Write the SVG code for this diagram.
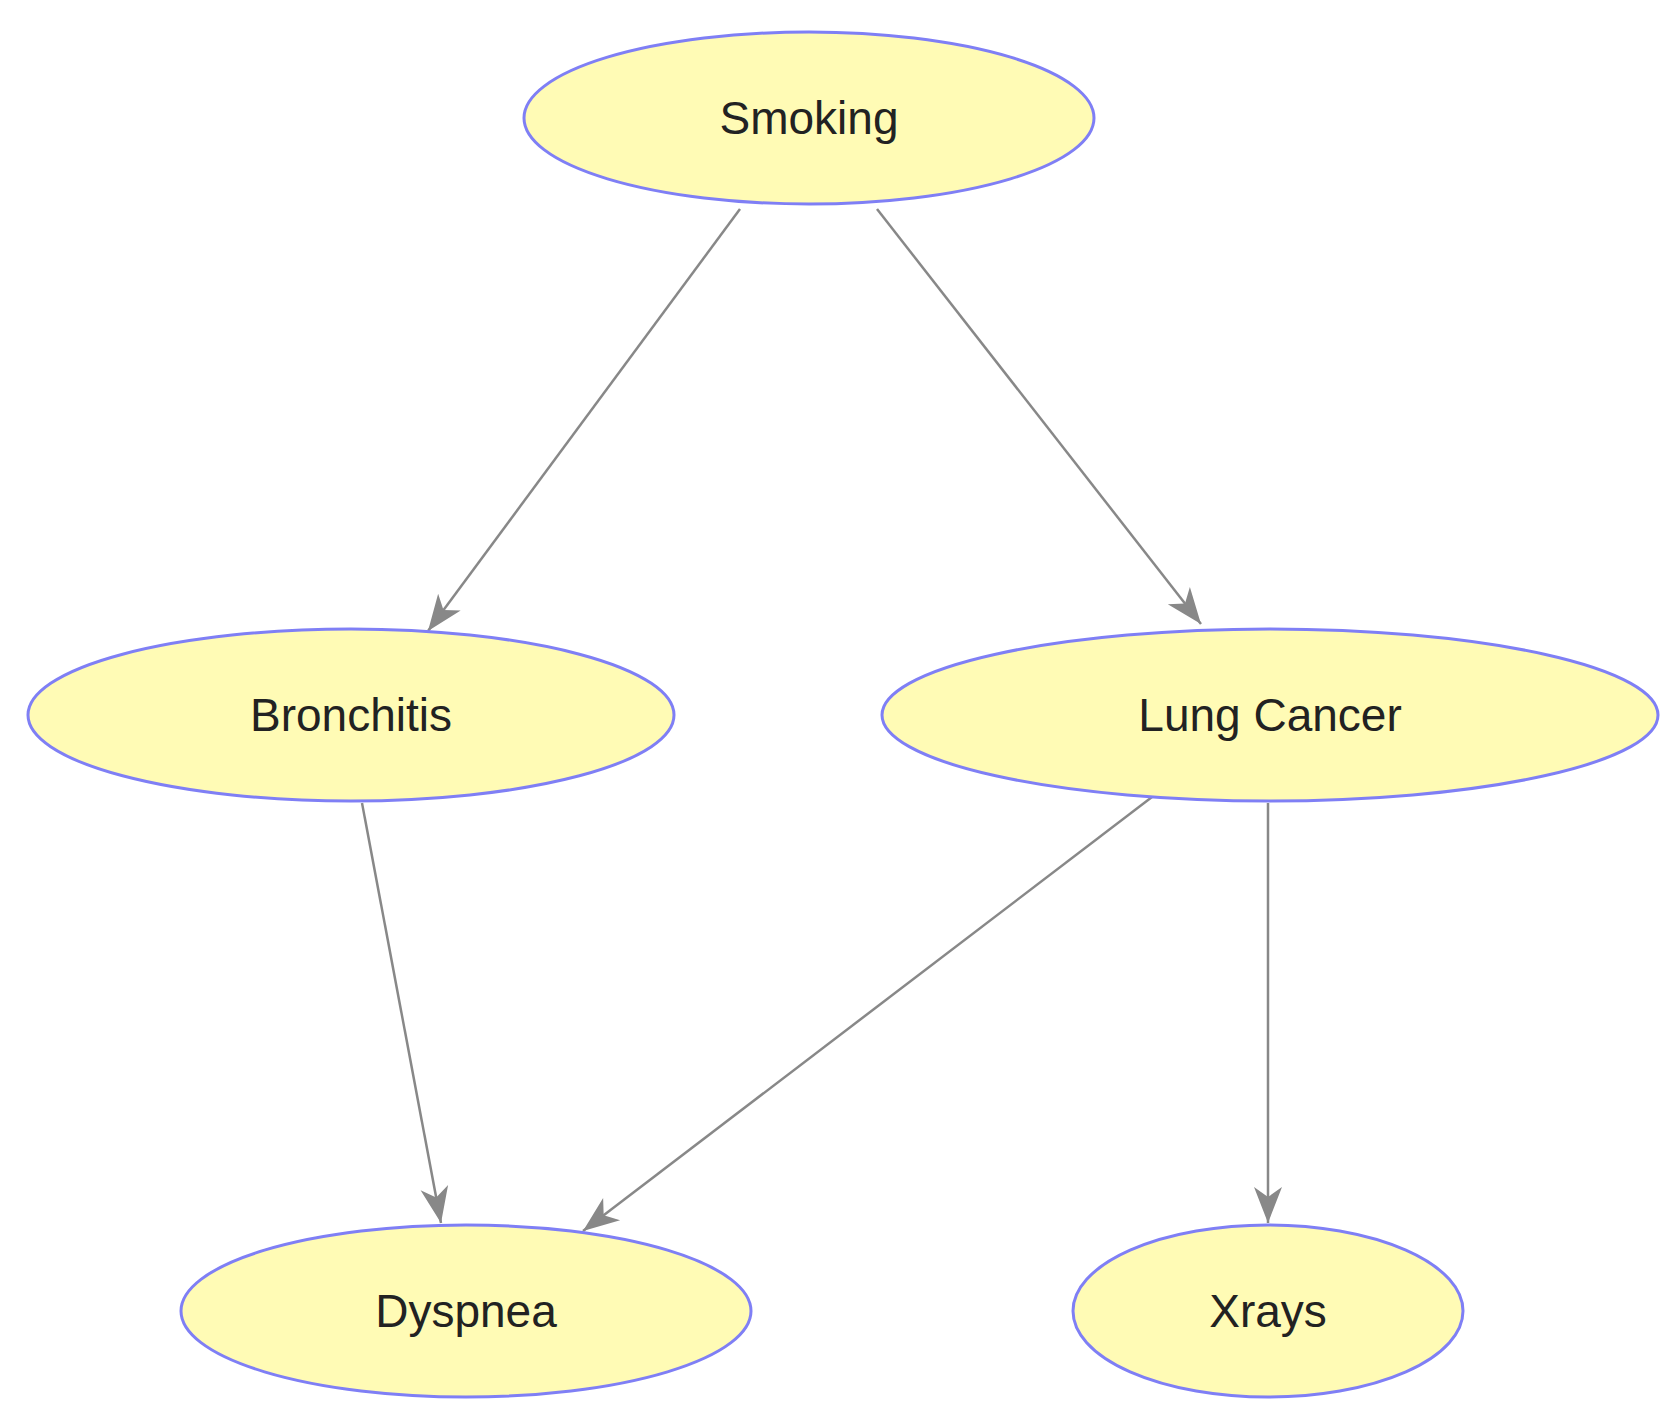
<svg xmlns="http://www.w3.org/2000/svg" width="1669" height="1420" viewBox="0 0 1669 1420">
<style>
.n{fill:#fffbb5;stroke:#7f7ff5;stroke-width:3}
.t{font-family:"Liberation Sans",Arial,sans-serif;font-size:46px;fill:#222;text-anchor:middle;dominant-baseline:central}
.e{stroke:#888;stroke-width:2.5;fill:none;marker-end:url(#a)}
</style>
<defs><marker id="a" markerUnits="userSpaceOnUse" markerWidth="40" markerHeight="40" viewBox="-40 -20 40 40" refX="0" refY="0" orient="auto"><path d="M0,0 L-36,-14 L-26,0 L-36,14 Z" fill="#888"/></marker></defs>
<rect width="1669" height="1420" fill="#fff"/>
<g id="edges">
<line class="e" x1="740" y1="209" x2="428" y2="631"/>
<line class="e" x1="877" y1="209" x2="1201" y2="624"/>
<line class="e" x1="362" y1="803" x2="441" y2="1223"/>
<line class="e" x1="1152" y1="797" x2="583" y2="1231"/>
<line class="e" x1="1268" y1="803" x2="1268" y2="1223"/>
</g>
<g id="smoking"><ellipse class="n" cx="809" cy="118" rx="285" ry="86"/><text class="t" x="809" y="118">Smoking</text></g>
<g id="bronchitis"><ellipse class="n" cx="351" cy="715" rx="323" ry="86"/><text class="t" x="351" y="715">Bronchitis</text></g>
<g id="lungcancer"><ellipse class="n" cx="1270" cy="715" rx="388" ry="86"/><text class="t" x="1270" y="715">Lung Cancer</text></g>
<g id="dyspnea"><ellipse class="n" cx="466" cy="1311" rx="285" ry="86"/><text class="t" x="466" y="1311">Dyspnea</text></g>
<g id="xrays"><ellipse class="n" cx="1268" cy="1311" rx="195" ry="86"/><text class="t" x="1268" y="1311">Xrays</text></g>
</svg>
